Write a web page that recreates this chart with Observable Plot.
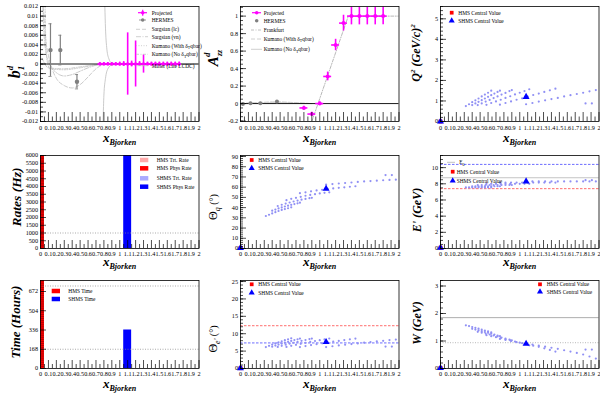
<!DOCTYPE html>
<html><head><meta charset="utf-8">
<script src="https://cdn.jsdelivr.net/npm/d3@7"></script>
<script src="https://cdn.jsdelivr.net/npm/@observablehq/plot@0.6"></script>
<style>
body{margin:0;background:#fff;}
#wrap{position:relative;width:600px;height:400px;overflow:hidden;background:#fff;}
#wrap svg{position:absolute;}
</style></head><body><div id="wrap"></div>
<script>
// ---------------- DATA ----------------
const xTicks = [0,0.1,0.2,0.3,0.4,0.5,0.6,0.7,0.8,0.9,1,1.1,1.2,1.3,1.4,1.5,1.6,1.7,1.8,1.9,2];
const xTickLabels = ["0","0.1","0.2","0.3","0.4","0.5","0.6","0.7","0.8","0.9","1","1.1","1.2","1.3","1.4","1.5","1.6","1.7","1.8","1.9","2"];

// b1^d panel
const b1Ticks = [-0.012,-0.01,-0.008,-0.006,-0.004,-0.002,0,0.002,0.004,0.006,0.008,0.01,0.012];
const b1TickLabels = ["-0.012","-0.01","-0.008","-0.006","-0.004","-0.002","0","0.002","0.004","0.006","0.008","0.01","0.012"];
const b1ProjX = [0.75,0.8,0.85,0.9,0.95,1.0,1.05,1.1,1.15,1.2,1.25,1.3,1.35,1.4,1.45,1.5,1.55,1.6,1.65,1.7,1.75];
const b1ProjY = [0,0,0,0,0,0,0,0,0,0,0,0,0,0,0,0,0,0,0,0,0];
const b1ProjErr = [0.0003,0.0003,0.0003,0.0003,0.0003,0.0004,0.0005,0.0065,0.0006,0.0048,0.0005,0.0019,0.0004,0.0004,0.0004,0.0004,0.0004,0.0004,0.0004,0.0004,0.0004];
const hermesB1X = [0.126,0.25,0.46];
const hermesB1Y = [0.0029,0.0029,-0.0037];
const hermesB1Err = [0.0055,0.0031,0.0015];
const sargsianLc = [[0.035,0.012],[0.06,0.006],[0.1,0.0018],[0.15,-0.0012],[0.2,-0.003],[0.3,-0.0045],[0.4,-0.005],[0.5,-0.0043],[0.6,-0.0027],[0.7,-0.001],[0.8,0]];
const sargsianVn = [[0.03,0.012],[0.05,0.005],[0.1,0.0005],[0.2,-0.0018],[0.3,-0.0025],[0.4,-0.0022],[0.5,-0.0015],[0.6,-0.0008],[0.75,0]];
const kumanoWith = [[0.058,0.012],[0.065,0.006],[0.08,0.001],[0.12,-0.001],[0.3,-0.0012],[0.5,-0.0008],[0.7,-0.0002],[0.9,0]];
const kumanoNo = [[0.02,0.0012],[0.1,-0.0008],[0.3,-0.001],[0.5,-0.0006],[0.7,-0.0002],[0.9,0]];
const millerUp = [[0.812,0.012],[0.82,0.0075],[0.835,0.0035],[0.86,0.0012],[0.9,0.0002],[1.0,0],[2.0,0]];
const millerDown = [[0.79,-0.012],[0.80,-0.0065],[0.82,-0.003],[0.85,-0.001],[0.9,-0.0002],[1.0,0]];

// A_zz^d panel
const azzTicks = [-0.2,0,0.2,0.4,0.6,0.8,1];
const azzTickLabels = ["-0.2","0","0.2","0.4","0.6","0.8","1"];
const azzProjX = [0.8,0.9,1.0,1.1,1.2,1.3,1.4,1.5,1.6,1.7,1.8];
const azzProjY = [-0.05,-0.12,0.0,0.31,0.67,0.92,1,1,1,1,1];
const azzProjErr = [0.02,0.02,0.02,0.05,0.065,0.09,0.1,0.1,0.1,0.1,0.1];
const azzProjXErr = [0.05,0.05,0.05,0.05,0.05,0.05,0.05,0.05,0.05,0.05,0.05];
const hermesAzzX = [0.03,0.126,0.25,0.46];
const hermesAzzY = [-0.004,0.004,0.004,0.023];
const hermesAzzErr = [0.008,0.006,0.006,0.01];
const frankfurt = [[0.9,-0.205],[1.36,1.0],[2.0,1.0]];
const kumanoAzzWith = [[0,0.004],[0.2,0.01],[0.45,0.02],[0.7,0.01],[0.9,0]];
const kumanoAzzNo = [[0,0],[0.2,0.004],[0.45,0.01],[0.7,0.005],[0.9,0]];

// kinematic bands: [x, Q2, theta_q, E', theta_e', W]
const band1 = [[0.32,0.75,31.8,7.55,6.15,1.571],[0.36,0.84,33.0,7.55,6.51,1.542],[0.40,0.94,34.3,7.55,6.88,1.510],[0.44,1.03,35.5,7.55,7.21,1.480],[0.48,1.12,36.7,7.55,7.52,1.449],[0.52,1.22,37.7,7.55,7.84,1.414],[0.56,1.31,38.6,7.55,8.13,1.382],[0.60,1.40,39.4,7.55,8.40,1.349],[0.64,1.50,40.3,7.55,8.70,1.311]];
const band2 = [[0.40,0.80,37.0,7.70,6.27,1.442],[0.44,0.88,38.1,7.70,6.58,1.414],[0.48,0.96,39.2,7.70,6.87,1.386],[0.52,1.04,40.2,7.70,7.15,1.356],[0.56,1.12,41.1,7.70,7.42,1.327],[0.60,1.20,41.9,7.70,7.68,1.296],[0.64,1.28,42.7,7.70,7.93,1.265],[0.68,1.36,43.5,7.70,8.18,1.233],[0.72,1.44,44.2,7.70,8.41,1.200],[0.75,1.50,44.8,7.70,8.59,1.175]];
const band3 = [[0.47,0.80,41.6,7.85,6.21,1.334],[0.52,0.88,42.8,7.85,6.51,1.304],[0.57,0.97,44.0,7.85,6.84,1.269],[0.62,1.05,45.0,7.85,7.11,1.237],[0.67,1.14,46.0,7.85,7.41,1.200],[0.72,1.22,46.9,7.85,7.67,1.166],[0.77,1.31,47.8,7.85,7.95,1.127],[0.82,1.39,48.5,7.85,8.19,1.091],[0.87,1.48,49.2,7.85,8.45,1.049],[0.90,1.53,49.6,7.85,8.59,1.025]];
const band4 = [[0.58,0.81,47.3,8.0,6.19,1.212],[0.64,0.90,48.6,8.0,6.52,1.174],[0.70,0.98,49.6,8.0,6.81,1.140],[0.76,1.06,50.6,8.0,7.08,1.104],[0.82,1.15,51.6,8.0,7.38,1.063],[0.88,1.23,52.4,8.0,7.63,1.024],[0.94,1.32,53.2,8.0,7.91,0.979],[1.00,1.40,53.9,8.0,8.14,0.938],[1.06,1.48,54.5,8.0,8.37,0.894],[1.12,1.57,55.0,8.0,8.62,0.842]];
const band5 = [[0.75,0.82,54.1,8.15,6.16,1.077],[0.82,0.90,55.0,8.15,6.45,1.039],[0.89,0.98,55.9,8.15,6.73,0.999],[0.96,1.06,56.8,8.15,7.00,0.959],[1.03,1.13,57.5,8.15,7.23,0.921],[1.10,1.21,58.2,8.15,7.48,0.877],[1.17,1.29,58.8,8.15,7.73,0.830],[1.24,1.36,59.4,8.15,7.93,0.787],[1.31,1.44,59.9,8.15,8.16,0.734],[1.38,1.52,60.4,8.15,8.39,0.677],[1.45,1.60,60.9,8.15,8.61,0.616]];
const band6 = [[1.08,0.84,62.5,8.3,6.17,0.906],[1.16,0.90,63.0,8.3,6.39,0.872],[1.24,0.97,63.6,8.3,6.63,0.831],[1.32,1.03,64.1,8.3,6.83,0.794],[1.40,1.09,64.6,8.3,7.03,0.755],[1.48,1.15,65.1,8.3,7.22,0.714],[1.56,1.22,65.6,8.3,7.43,0.663],[1.64,1.28,66.0,8.3,7.62,0.616],[1.72,1.34,66.4,8.3,7.79,0.566],[1.80,1.40,66.8,8.3,7.97,0.510],[1.88,1.47,67.1,8.3,8.16,0.436],[1.96,1.53,67.3,8.3,8.33,0.361]];
const band7 = [[1.83,0.88,71.8,8.45,6.3,0.69],[1.91,0.88,71.8,8.45,6.3,0.69]];
// central values: [x, Q2, theta_q, E', theta_e', W]
const hmsCentral = [[0,0,0.6,0.1,0.1,0.02]];
const shmsCentral = [[0,0,0.6,0.1,0.1,0.02],[1.08,1.2,58.5,8.3,7.6,0.9]];

const q2Ticks=[0,1,2,3,4,5], q2TickLabels=["0","1","2","3","4","5"];
const rateTicks=[0,500,1000,1500,2000,2500,3000,3500,4000,4500,5000,5500,6000];
const rateTickLabels=["0","500","1000","1500","2000","2500","3000","3500","4000","4500","5000","5500","6000"];
const thqTicks=[0,10,20,30,40,50,60,70,80,90], thqTickLabels=["0","10","20","30","40","50","60","70","80","90"];
const epTicks=[0,2,4,6,8,10], epTickLabels=["0","2","4","6","8","10"];
const timeTicks=[0,168,336,504,672], timeTickLabels=["0","168","336","504","672"];
const theTicks=[0,5,10,15,20,25], theTickLabels=["0","5","10","15","20","25"];
const wTicks=[0,1,2,3], wTickLabels=["0","1","2","3"];

const hmsBin=[0,0.05], shmsBin=[1.05,1.15];
const hmsPhysRate=6000, shmsPhysRate=6000;
const hmsTime=768, shmsTime=336;
const rateRef=[1000];
const timeRefs=[168,720];
const eBeam=[10.4], hmsEp=[7.4], epGray=[8.75];
const hmsTheta=[12.3], shmsTheta=[7.35];
const protonMass=[0.938], deutLine=[1.85];

// ---------------- LAYOUT ----------------
const wrap = document.getElementById("wrap");
const W = 200, ML = 40, MR = 1.5;
const rows = [{top:0,h:135,mt:6,mb:14,tick:9,lp:4.5,xt:142},{top:135,h:133,mt:20,mb:20,tick:8,lp:3,xt:131},{top:268,h:132,mt:12,mb:32,tick:8,lp:3,xt:120}];
const FONT = "'Liberation Serif','Times New Roman',serif";
const xLab = new Map(xTicks.map((v,i)=>[v,xTickLabels[i]]));
const xMinor = d3.range(0.05,2,0.1);
const LB = "#9090f4";

function toObj(t){return t.map(([x,q2,tq,ep,te,w])=>({x,q2,tq,ep,te,w}));}
const kin = toObj([...band1,...band2,...band3,...band4,...band5,...band6,...band7]);
const hmsC = toObj(hmsCentral), shmsC = toObj(shmsCentral);

function panel(col,row,cfg){
  const R = rows[row];
  const fh = R.h-R.mt-R.mb, fw = W-ML-MR;
  const [y0,y1] = cfg.yDomain;
  const step = cfg.yMinor;
  const yMinor = d3.range(Math.ceil(y0/step-1e-9), Math.floor(y1/step+1e-9)+1).map(k=>k*step);
  const ylab = new Map(cfg.yTicks.map((v,i)=>[v,cfg.yLabels[i]]));
  const svg = Plot.plot({
    width:W, height:R.h, marginLeft:ML, marginRight:MR, marginTop:R.mt, marginBottom:R.mb,
    x:{domain:[0,2], axis:null}, y:{domain:cfg.yDomain, axis:null},
    style:{background:"transparent", overflow:"visible", fontFamily:FONT, color:"black"},
    marks:[
      ...cfg.marks,
      Plot.ruleX(xMinor,{x:d=>d, insetTop:fh-R.tick/2, stroke:"black", strokeWidth:0.7}),
      Plot.ruleX(xTicks,{x:d=>d, insetTop:fh-R.tick, stroke:"black", strokeWidth:0.7}),
      Plot.ruleY(yMinor,{y:d=>d, insetRight:fw-(cfg.minorLen||3), stroke:cfg.minorColor||"black", strokeWidth:0.7}),
      Plot.ruleY(cfg.yTicks,{y:d=>d, insetRight:fw-6, stroke:"black", strokeWidth:0.7}),
      Plot.frame({stroke:"black", strokeWidth:0.8}),
      Plot.text(xTicks,{x:d=>d, frameAnchor:"bottom", dy:R.lp, lineAnchor:"top", text:d=>xLab.get(d), fontSize:6.2, fill:"black"}),
      Plot.text(cfg.yTicks,{y:d=>d, frameAnchor:"left", dx:-2.5, textAnchor:"end", text:d=>ylab.get(d), fontSize:6.2, fill:"black"})
    ]
  });
  svg.style.left = (col*200)+"px";
  svg.style.top = R.top+"px";
  wrap.appendChild(svg);
  const s = d3.select(svg);
  const xt = s.append("text").attr("x",103).attr("y",R.xt).attr("text-anchor","start").attr("font-family",FONT).attr("font-weight","bold").attr("font-style","italic").attr("fill","black");
  xt.append("tspan").text("x").attr("font-size",13);
  xt.append("tspan").text("Bjorken").attr("font-size",8).attr("dy",3);
  return s;
}

function yTitle(s,x,y,segs){
  const t = s.append("text").attr("transform",`translate(${x},${y}) rotate(-90)`).attr("text-anchor","middle").attr("font-family",FONT).attr("fill","black");
  segs.forEach(g=>{const ts=t.append("tspan").text(g.t).attr("font-size",g.size);
    if(g.dy) ts.attr("dy",g.dy); if(g.dx) ts.attr("dx",g.dx);
    if(g.b) ts.attr("font-weight","bold"); if(g.i) ts.attr("font-style","italic");});
}
function lText(s,x,y,segs){
  const t = s.append("text").attr("x",x).attr("y",y).attr("dy","0.35em").attr("text-anchor","start").attr("font-family",FONT).attr("font-size",5.4).attr("fill","black");
  (typeof segs==="string"?[{t:segs}]:segs).forEach(g=>{const ts=t.append("tspan").text(g.t); if(g.dy) ts.attr("dy",g.dy); if(g.size) ts.attr("font-size",g.size);});
}
function sym(s,x,y,type,size,color){
  s.append("path").attr("d",d3.symbol(type,size)()).attr("transform",`translate(${x},${y})`).attr("fill",color);
}
function lLine(s,x1,x2,y,color,dash,w){
  s.append("line").attr("x1",x1).attr("x2",x2).attr("y1",y).attr("y2",y).attr("stroke",color).attr("stroke-width",w||0.8).attr("stroke-dasharray",dash||null);
}
function lBox(s,x,y,w,h,color){ s.append("rect").attr("x",x).attr("y",y-h/2).attr("width",w).attr("height",h).attr("fill",color); }

const gray = "#c4c4c4";
const line = (pts,opt)=>Plot.line(pts,{x:d=>d[0],y:d=>d[1],curve:"monotone-x",stroke:gray,strokeWidth:0.9,clip:true,...opt});

// ---------- Panel 1: b1^d ----------
{
  const proj = b1ProjX.map((x,i)=>({x,y:b1ProjY[i],e:b1ProjErr[i]}));
  const her = hermesB1X.map((x,i)=>({x,y:hermesB1Y[i],e:hermesB1Err[i]}));
  const s = panel(0,0,{yDomain:[-0.012,0.012], yTicks:b1Ticks, yLabels:b1TickLabels, yMinor:0.001, marks:[
    line(sargsianLc,{strokeDasharray:"4,2"}),
    line(sargsianVn,{strokeDasharray:"5,1.5,1,1.5"}),
    line(kumanoWith,{strokeDasharray:"1,1.5"}),
    line(kumanoNo,{strokeDasharray:"3,1.5,1,1.5"}),
    line(millerUp,{}), line(millerDown,{}),
    Plot.ruleY([0],{stroke:"black",strokeWidth:0.9}),
    Plot.ruleX(her,{x:"x",y1:d=>d.y-d.e,y2:d=>d.y+d.e,stroke:"#808080",strokeWidth:1.2}),
    Plot.ruleY(her,{y:d=>d.y+d.e,x1:d=>d.x-0.02,x2:d=>d.x+0.02,stroke:"#808080",strokeWidth:0.8}),
    Plot.ruleY(her,{y:d=>d.y-d.e,x1:d=>d.x-0.02,x2:d=>d.x+0.02,stroke:"#808080",strokeWidth:0.8}),
    Plot.dot(her,{x:"x",y:"y",r:2.2,fill:"#808080"}),
    Plot.ruleX(proj,{x:"x",y1:d=>d.y-d.e,y2:d=>d.y+d.e,stroke:"#ff00ff",strokeWidth:1.6}),
    Plot.ruleY(proj,{y:"y",x1:d=>d.x-0.025,x2:d=>d.x+0.025,stroke:"#ff00ff",strokeWidth:1.6}),
    Plot.dot(proj,{x:"x",y:"y",r:1.8,fill:"#ff00ff"})
  ]});
  yTitle(s,20,72,[{t:"b",size:16,b:1,i:1},{t:"1",size:9,dy:4,b:1,i:1},{t:"d",size:9,dx:-4.5,dy:-11,b:1,i:1}]);
  const mx=142.7, tx=151.7;
  lLine(s,138,147,12.7,"#ff00ff","",1.2); s.append("line").attr("x1",mx).attr("x2",mx).attr("y1",9.7).attr("y2",15.7).attr("stroke","#ff00ff").attr("stroke-width",1.2);
  sym(s,mx,12.7,d3.symbolCircle,10,"#ff00ff"); lText(s,tx,12.7,"Projected");
  lLine(s,139,146,20,"#808080","",0.8); sym(s,mx,20,d3.symbolCircle,10,"#808080"); lText(s,tx,20,"HERMES");
  lLine(s,136,148,29.3,gray,"4,2"); lText(s,tx,29.3,"Sargsian (lc)");
  lLine(s,136,148,36.7,gray,"5,1.5,1,1.5"); lText(s,tx,36.7,"Sargsian (vn)");
  lLine(s,136,148,45.7,gray,"1,1.5"); lText(s,tx,45.7,[{t:"Kumano (With δ"},{t:"T",dy:1.5,size:4},{t:"qbar)",dy:-1.5}]);
  lLine(s,136,148,54.3,gray,"3,1.5,1,1.5"); lText(s,tx,54.3,[{t:"Kumano (No δ"},{t:"T",dy:1.5,size:4},{t:"qbar)",dy:-1.5}]);
  lLine(s,136,148,65.7,gray,""); lText(s,tx,65.7,"Miller (Lite LCDC)");
}

// ---------- Panel 2: A_zz ----------
{
  const proj = azzProjX.map((x,i)=>({x,y:azzProjY[i],e:azzProjErr[i],xe:azzProjXErr[i]}));
  const her = hermesAzzX.map((x,i)=>({x,y:hermesAzzY[i],e:hermesAzzErr[i]}));
  const s = panel(1,0,{yDomain:[-0.205,1.11], yTicks:azzTicks, yLabels:azzTickLabels, yMinor:0.05, marks:[
    line(kumanoAzzWith,{strokeDasharray:"4,2"}),
    line(kumanoAzzNo,{}),
    Plot.line(frankfurt,{x:d=>d[0],y:d=>d[1],stroke:"#b0b0b0",strokeWidth:0.9,strokeDasharray:"3,1.5,1,1.5",clip:true}),
    Plot.ruleY([0],{stroke:"black",strokeWidth:0.9}),
    Plot.ruleX(her,{x:"x",y1:d=>d.y-d.e,y2:d=>d.y+d.e,stroke:"#808080",strokeWidth:1}),
    Plot.dot(her,{x:"x",y:"y",r:2,fill:"#808080"}),
    Plot.ruleX(proj,{x:"x",y1:d=>d.y-d.e,y2:d=>Math.min(d.y+d.e,1.11),stroke:"#ff00ff",strokeWidth:1.6}),
    Plot.ruleY(proj,{y:"y",x1:d=>d.x-d.xe,x2:d=>d.x+d.xe,stroke:"#ff00ff",strokeWidth:1.6}),
    Plot.dot(proj,{x:"x",y:"y",r:2,fill:"#ff00ff"})
  ]});
  yTitle(s,18,58,[{t:"A",size:15,b:1,i:1},{t:"zz",size:8,dy:4,b:1,i:1},{t:"d",size:9,dx:-7,dy:-12,b:1,i:1}]);
  const mx=56.7, tx=61.7;
  lLine(s,52,61,12.7,"#ff00ff","",1.2); sym(s,mx,12.7,d3.symbolCircle,10,"#ff00ff"); lText(s,tx+2,12.7,"Projected");
  sym(s,mx,20.7,d3.symbolCircle,10,"#808080"); lText(s,tx+2,20.7,"HERMES");
  lLine(s,51,62,30,"#b0b0b0","3,1.5,1,1.5"); lText(s,tx+2,30,"Frankfurt");
  lLine(s,51,62,39,gray,"4,2"); lText(s,tx+2,39,[{t:"Kumano (With δ"},{t:"T",dy:1.5,size:4},{t:"qbar)",dy:-1.5}]);
  lLine(s,51,62,49.3,gray,""); lText(s,tx+2,49.3,[{t:"Kumano (No δ"},{t:"T",dy:1.5,size:4},{t:"qbar)",dy:-1.5}]);
}

function centralMarks(key){
  return [
    Plot.dot(kin,{x:"x",y:key,r:1.1,fill:LB}),
    Plot.dot(hmsC,{x:"x",y:key,symbol:"square",r:2.2,fill:"red"}),
    Plot.dot(shmsC,{x:"x",y:key,symbol:"triangle",r:2.6,fill:"blue"})
  ];
}
function centralLegend(s,mx,tx,y1,y2){
  sym(s,mx,y1,d3.symbolSquare,14,"red"); lText(s,tx,y1,"HMS Central Value");
  sym(s,mx,y2,d3.symbolTriangle,16,"blue"); lText(s,tx,y2,"SHMS Central Value");
}

// ---------- Panel 3: Q2 ----------
{
  const s = panel(2,0,{yDomain:[0,5.6], yTicks:q2Ticks, yLabels:q2TickLabels, yMinor:0.2, marks:centralMarks("q2")});
  yTitle(s,20,53,[{t:"Q",size:12,b:1,i:1},{t:"2",size:7,dy:-5,b:1,i:1},{t:" (GeV/c)",size:12,dy:5,b:1,i:1},{t:"2",size:7,dy:-5,b:1,i:1}]);
  centralLegend(s,51.7,58.3,12.7,20.7);
}

// ---------- Panel 4: Rates ----------
{
  const s = panel(0,1,{yDomain:[0,6000], yTicks:rateTicks, yLabels:rateTickLabels, yMinor:100, minorLen:4, minorColor:"#900", marks:[
    Plot.rect([{x1:hmsBin[0],x2:hmsBin[1],y:hmsPhysRate}],{x1:"x1",x2:"x2",y1:0,y2:"y",fill:"red",clip:true}),
    Plot.rect([{x1:shmsBin[0],x2:shmsBin[1],y:shmsPhysRate}],{x1:"x1",x2:"x2",y1:0,y2:"y",fill:"blue",clip:true}),
    Plot.ruleY(rateRef,{y:d=>d,stroke:"#888",strokeWidth:0.7,strokeDasharray:"1,1.5"})
  ]});
  yTitle(s,21,62,[{t:"Rates (Hz)",size:13.5,b:1,i:1}]);
  lBox(s,140,25,8.3,4.5,"#ffaaaa"); lText(s,156.7,25,"HMS Trt. Rate");
  lBox(s,140,33.3,8.3,4.5,"red"); lText(s,156.7,33.3,"HMS Phys Rate");
  lBox(s,140,43.3,8.3,4.5,"#aaaaff"); lText(s,156.7,43.3,"SHMS Trt. Rate");
  lBox(s,140,51.7,8.3,4.5,"blue"); lText(s,156.7,51.7,"SHMS Phys Rate");
}

// ---------- Panel 5: theta_q ----------
{
  const s = panel(1,1,{yDomain:[0,91], yTicks:thqTicks, yLabels:thqTickLabels, yMinor:2, marks:centralMarks("tq")});
  yTitle(s,17,72,[{t:"Θ",size:12},{t:"q",size:8,dy:3,i:1},{t:" (°)",size:10,dy:-3}]);
  centralLegend(s,51.7,58.3,25,33.3);
}

// ---------- Panel 6: E' ----------
{
  const s = panel(2,1,{yDomain:[0,11.5], yTicks:epTicks, yLabels:epTickLabels, yMinor:0.5, marks:[
    Plot.ruleY(eBeam,{y:d=>d,stroke:"#5c5cff",strokeWidth:0.9,strokeDasharray:"2.5,1.5"}),
    Plot.ruleY(hmsEp,{y:d=>d,stroke:"#ff5c5c",strokeWidth:0.9,strokeDasharray:"2.5,1.5"}),
    Plot.ruleY(epGray,{y:d=>d,stroke:"#aaa",strokeWidth:0.7}),
    ...centralMarks("ep")
  ]});
  yTitle(s,21,75,[{t:"E' (GeV)",size:12,b:1,i:1}]);
  lLine(s,47,55,27.3,"#bbb","",0.9); lText(s,59.3,27.3,[{t:"E"},{t:"0",dy:1.5,size:4}]);
  centralLegend(s,52.7,56.7,36.7,45.7);
}

// ---------- Panel 7: Time ----------
{
  const s = panel(0,2,{yDomain:[0,768], yTicks:timeTicks, yLabels:timeTickLabels, yMinor:16.8, minorLen:4, minorColor:"#900", marks:[
    Plot.rect([{x1:hmsBin[0],x2:hmsBin[1],y:hmsTime}],{x1:"x1",x2:"x2",y1:0,y2:"y",fill:"red",clip:true}),
    Plot.rect([{x1:shmsBin[0],x2:shmsBin[1],y:shmsTime}],{x1:"x1",x2:"x2",y1:0,y2:"y",fill:"blue",clip:true}),
    Plot.ruleY(timeRefs,{y:d=>d,stroke:"#888",strokeWidth:0.7,strokeDasharray:"1,1.5"})
  ]});
  yTitle(s,20,54,[{t:"Time (Hours)",size:13,b:1,i:1}]);
  lBox(s,51.7,23,8.3,4.5,"red"); lText(s,68.3,23,"HMS Time");
  lBox(s,51.7,31,8.3,4.5,"blue"); lText(s,68.3,31,"SHMS Time");
}

// ---------- Panel 8: theta_e' ----------
{
  const s = panel(1,2,{yDomain:[0,25.3], yTicks:theTicks, yLabels:theTickLabels, yMinor:1, marks:[
    Plot.ruleY(hmsTheta,{y:d=>d,stroke:"#ff5c5c",strokeWidth:0.9,strokeDasharray:"2.5,1.5"}),
    Plot.ruleY(shmsTheta,{y:d=>d,stroke:"#5c5cff",strokeWidth:0.9,strokeDasharray:"2.5,1.5"}),
    ...centralMarks("te")
  ]});
  yTitle(s,17,71,[{t:"Θ",size:12},{t:"e'",size:8,dy:3,i:1},{t:" (°)",size:10,dy:-3}]);
  centralLegend(s,51.7,58.3,16.3,24.7);
}

// ---------- Panel 9: W ----------
{
  const s = panel(2,2,{yDomain:[0,3.2], yTicks:wTicks, yLabels:wTickLabels, yMinor:0.2, marks:[
    Plot.ruleY(deutLine,{y:d=>d,stroke:"#999",strokeWidth:0.8}),
    Plot.ruleY(protonMass,{y:d=>d,stroke:"#999",strokeWidth:0.7,strokeDasharray:"1,1.5"}),
    ...centralMarks("w")
  ]});
  yTitle(s,21,55,[{t:"W (GeV)",size:12,b:1,i:1}]);
  centralLegend(s,140,146.7,16.3,23.7);
}
</script></body></html>
